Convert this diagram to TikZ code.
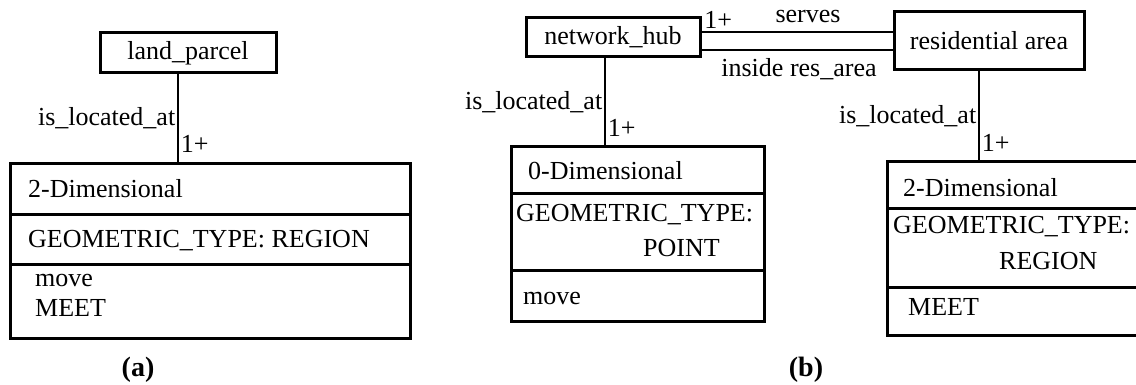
\documentclass[tikz,border=0pt]{standalone}
\usepackage{fontspec}
\setmainfont{Liberation Serif}
\usetikzlibrary{positioning}
\tikzset{
	namebox/.style={draw, line width=3pt},
	classbox/.style={draw, line width=3pt, anchor=north west, inner sep=0pt},
	conn/.style={line width=2.6pt},
	lbl/.style={inner sep=1.5pt},
	txt/.style={anchor=west, inner sep=0pt},
	caption/.style={font=\fontsize{28}{32}\selectfont\bfseries},
}
\begin{document}
\begin{tikzpicture}[x=1pt,y=-1pt,every node/.style={black,font=\fontsize{26}{30}\selectfont}]
	\useasboundingbox (0,0) rectangle (1136,385);

	% (a)
	\node[namebox, minimum width=176pt, minimum height=40pt] (land) at (188,53) {land\_parcel};

	\node[classbox, minimum width=400pt, minimum height=51pt] (dimAname) at (9,162) {};
	\node[classbox, minimum width=400pt, minimum height=50pt] (dimAattr) at (9,213) {};
	\node[classbox, minimum width=400pt, minimum height=74pt] (dimAop) at (9,263) {};
	\node[txt] (dimAnameT) at (28,189) {2-Dimensional};
	\node[txt] (dimAattrT) at (28,241) {GEOMETRIC\_TYPE: REGION};
	\node[txt] (dimAmove) at (35,281) {move};
	\node[txt] (dimAmeet) at (35,308) {MEET};

	\draw[conn] ([xshift=-10pt]land.south) -- ([xshift=-10pt]land.south |- dimAname.north)
		node[lbl, midway, left] (locA) {is\_located\_at}
		node[lbl, pos=0.79, right] (multA) {1+};

	\node[caption] (capA) at (138,370) {(a)};

	% (b)
	\node[namebox, minimum width=174pt, minimum height=39pt] (hub) at (613,37.5) {network\_hub};
	\node[namebox, minimum width=190pt, minimum height=58pt] (res) at (989,41) {residential area};

	\draw[conn] ([yshift=5.5pt]hub.east) -- ([yshift=5.5pt]hub.east -| res.west)
		node[lbl, pos=0, above right, yshift=1pt] (multS) {1+}
		node[lbl, midway, above, xshift=11pt, yshift=6pt] (serves) {serves};
	\draw[conn] ([yshift=-12.5pt]hub.east) -- ([yshift=-12.5pt]hub.east -| res.west)
		node[lbl, midway, below, xshift=2pt, yshift=-6pt] (inside) {inside res\_area};

	\node[classbox, minimum width=253pt, minimum height=47pt] (dimBname) at (510,145) {};
	\node[classbox, minimum width=253pt, minimum height=77pt] (dimBattr) at (510,192) {};
	\node[classbox, minimum width=253pt, minimum height=51pt] (dimBop) at (510,269) {};
	\node[txt] (dimBnameT) at (528,171) {0-Dimensional};
	\node[txt] (dimBattrT) at (516,215) {GEOMETRIC\_TYPE:};
	\node[txt] (dimBpoint) at (643,248) {POINT};
	\node[txt] (dimBmove) at (523,299) {move};

	\draw[conn] ([xshift=-8pt]hub.south) -- ([xshift=-8pt]hub.south |- dimBname.north)
		node[lbl, midway, left] (locB) {is\_located\_at}
		node[lbl, pos=0.8, right] (multB) {1+};

	\node[classbox, minimum width=264pt, minimum height=47pt] (dimCname) at (886,160) {};
	\node[classbox, minimum width=264pt, minimum height=79pt] (dimCattr) at (886,207) {};
	\node[classbox, minimum width=264pt, minimum height=48pt] (dimCop) at (886,286) {};
	\node[txt] (dimCnameT) at (903,188) {2-Dimensional};
	\node[txt] (dimCattrT) at (893,227) {GEOMETRIC\_TYPE:};
	\node[txt] (dimCregion) at (999,261) {REGION};
	\node[txt] (dimCmeet) at (908,307) {MEET};

	\draw[conn] ([xshift=-10pt]res.south) -- ([xshift=-10pt]res.south |- dimCname.north)
		node[lbl, midway, left] (locC) {is\_located\_at}
		node[lbl, pos=0.81, right] (multC) {1+};

	\node[caption] (capB) at (806,370) {(b)};
\end{tikzpicture}
\end{document}
